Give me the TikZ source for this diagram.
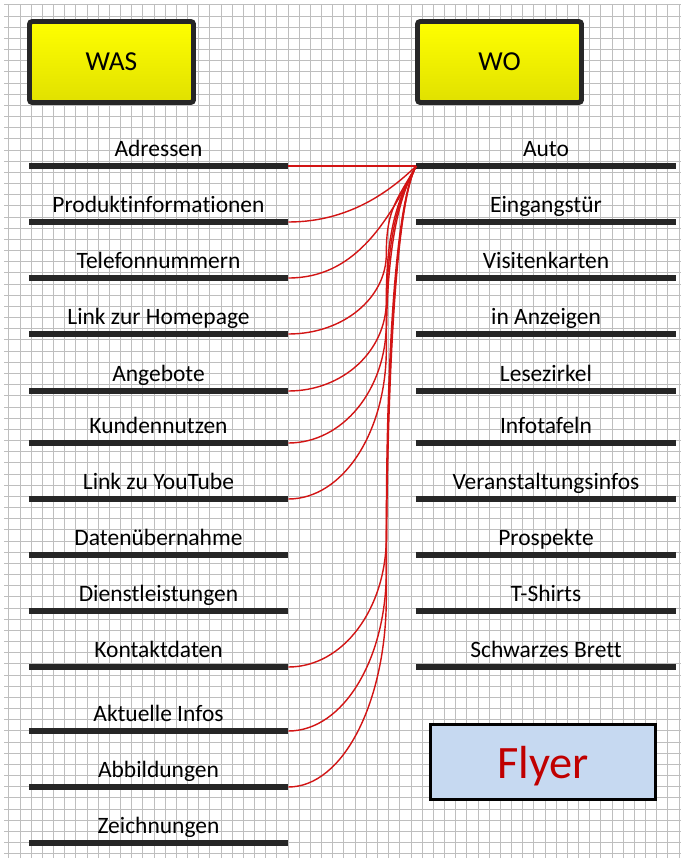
\documentclass[tikz,border=0pt]{standalone}
\usepackage{fontspec}
\setmainfont{Carlito}[Ligatures=NoCommon]
\usepackage{tikz}
\definecolor{barcol}{RGB}{38,38,38}
\definecolor{linkred}{RGB}{210,20,20}
\definecolor{flyerblue}{RGB}{198,217,241}
\definecolor{flyerred}{RGB}{192,0,0}
\definecolor{gridgray}{RGB}{190,190,190}

\tikzset{
	headbox/.style = {draw=black!85, line width=3.5pt, rounded corners=2pt,
		top color=yellow, bottom color=yellow!88!black,
		minimum width=4.1cm, minimum height=2.025cm,
		font=\fontsize{19.5}{21}\selectfont},
	bar/.style = {fill=barcol, inner sep=0pt, minimum width=6.475cm, minimum height=0.13cm},
	lab/.style = {inner sep=0pt, text depth=0pt, label distance=4.8pt, font=\fontsize{16.7}{18}\selectfont},
	item/.style = {bar, label={[lab]above:#1}},
	flyerbox/.style = {draw=black, line width=2.1pt, fill=flyerblue,
		minimum width=5.625cm, minimum height=1.875cm, text depth=0pt,
		text=flyerred, font=\fontsize{33}{36}\selectfont},
	link/.style = {color=linkred, line width=1pt},
	gridline/.style = {color=gridgray, line width=0.45pt}
}

\begin{document}
\begin{tikzpicture}[x=0.025cm, y=-0.025cm]
	\fill[white] (0,0) rectangle (685,862);
	\useasboundingbox (0,0) rectangle (685,862);
	% squared paper
	\foreach \gx in {8.7,19.87,...,685}
	\draw[gridline] (\gx,4) -- (\gx,858);
	\foreach \gy in {4.7,15.87,...,860}
	\draw[gridline] (4,\gy) -- (681,\gy);

	\node[headbox] (was) at (111.5,62) {WAS};
	\node[headbox] (wo) at (499.5,62) {WO};

	\foreach \y/\t [count=\i] in {166/Adressen, 222/Produktinformationen, 278/Telefonnummern,
		334/Link zur Homepage, 391/Angebote, 443/Kundennutzen, 499/Link zu YouTube,
		555/Datenübernahme, 611/Dienstleistungen, 667/Kontaktdaten, 731/Aktuelle Infos,
		787/Abbildungen, 843/Zeichnungen}
	\node[item=\t] (w\i) at (158.5,\y) {};

	\foreach \y/\t [count=\i] in {166/Auto, 222/Eingangstür, 278/Visitenkarten,
		334/in Anzeigen, 391/Lesezirkel, 443/Infotafeln, 499/Veranstaltungsinfos,
		555/Prospekte, 611/T-Shirts, 667/Schwarzes Brett}
	\node[item=\t] (o\i) at (546,\y) {};

	\node[flyerbox] (flyer) at (543,762) {Flyer};

	% connectors into Auto
	\draw[link] (w1.east) -- (o1.west);
	\draw[link] (w2.east) .. controls +(62,0) and +(-25,24) .. (o1.west);
	\draw[link] (w3.east) .. controls +(65,0) and +(-30,59) .. (o1.west);
	\foreach \i/\y/\h in {4/334/80, 5/391/90, 6/443/120, 7/499/150, 10/667/130, 11/731/160, 12/787/190}
	\draw[link] (w\i.east) .. controls +(55,0) and +(0,0.55*\h) .. ++(98,-\h)
		.. controls +(0,{-0.5*(\y-\h-166)}) and +(-20,35) .. (o1.west);
\end{tikzpicture}
\end{document}
